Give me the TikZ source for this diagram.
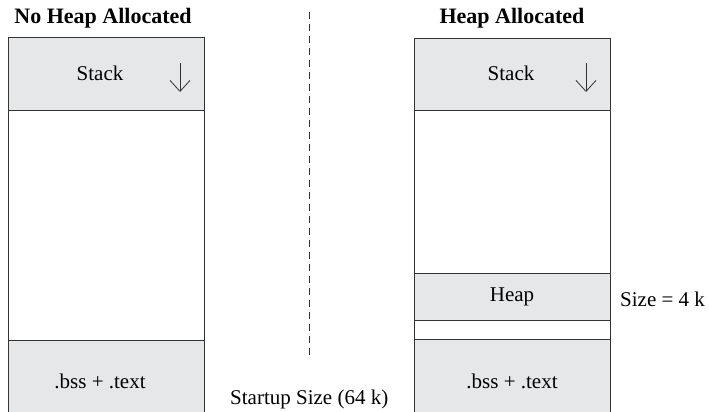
\documentclass[tikz,border=0pt]{standalone}
\usepackage{fontspec}
\setmainfont{Liberation Serif}
\usetikzlibrary{arrows.meta}
\definecolor{segfill}{HTML}{E6E7E8}
\definecolor{segline}{HTML}{333333}
\begin{document}
\begin{tikzpicture}[x=1pt,y=-1pt,
  seg/.style={draw=segline,line width=0.9pt,fill=segfill,minimum width=196pt,inner sep=0pt},
  blank/.style={draw=segline,line width=0.9pt,fill=white,minimum width=196pt,inner sep=0pt},
  title/.style={font=\bfseries\fontsize{22}{24}\selectfont,inner sep=0pt},
  lbl/.style={font=\fontsize{21}{24}\selectfont,inner sep=0pt},
  growarrow/.style={-{Straight Barb[length=11pt,width=20pt]},line width=0.8pt,segline}]
\useasboundingbox (0,0) rectangle (709,412);
\clip (0,0) rectangle (709,412);
% left column
\node[blank,minimum height=230pt] (lmid) at (106,225) {};
\node[seg,minimum height=73pt] (lstack) at (106,73.5) {};
\node[lbl] (lstacktxt) at (100,73) {Stack};
\node[seg,minimum height=76pt] (lbss) at (106,378) {};
\node[lbl] (lbsstxt) at (100,381) {.bss + .text};
\coordinate (la1) at (180,63);
\coordinate (la2) at (180,92);
\draw[growarrow] (la1) -- (la2);
\node[title] (ltitle) at (103,18) {No Heap Allocated};
% divider
\coordinate (d1) at (309,12);
\coordinate (d2) at (309,356);
\draw[segline,line width=0.9pt,dash pattern=on 7pt off 5pt] (d1) -- (d2);
% right column
\node[blank,minimum height=230pt] (rmid) at (512.5,225) {};
\node[seg,minimum height=72pt] (rstack) at (512.5,74) {};
\node[lbl] (rstacktxt) at (511,73) {Stack};
\node[seg,minimum height=47pt] (rheap) at (512.5,296.5) {};
\node[lbl] (rheaptxt) at (512,297) {Heap};
\node[seg,minimum height=76pt] (rbss) at (512.5,377.5) {};
\node[lbl] (rbsstxt) at (512,381) {.bss + .text};
\coordinate (ra1) at (586,63);
\coordinate (ra2) at (586,92);
\draw[growarrow] (ra1) -- (ra2);
\node[title] (rtitle) at (512,18) {Heap Allocated};
% side labels
\node[lbl,anchor=west] (size) at (620,299) {Size = 4 k};
\node[lbl,anchor=west] (startup) at (230,399) {Startup Size (64 k)};
\end{tikzpicture}
\end{document}
